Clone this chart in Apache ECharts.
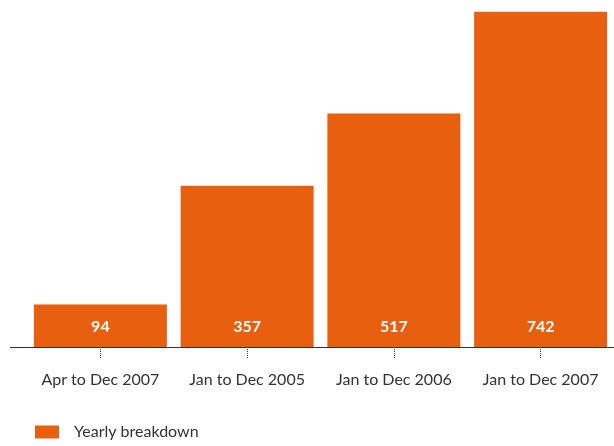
<!DOCTYPE html>
<html><head><meta charset="utf-8">
<script src="https://cdn.jsdelivr.net/npm/echarts@6/dist/echarts.min.js"></script>
<style>html,body{margin:0;padding:0;background:#fff}#c{width:614px;height:446px}</style>
</head><body><div id="c"></div>
<script>
var categories = ["Apr to Dec 2007", "Jan to Dec 2005", "Jan to Dec 2006", "Jan to Dec 2007"];
var values = [94, 357, 517, 742];
var seriesName = "Yearly breakdown";
var orange = "#E95F10";
var chart = echarts.init(document.getElementById('c'), null, {renderer: 'canvas'});
chart.setOption({
  animation: false,
  textStyle: {fontFamily: 'Lato'},
  grid: {left: 27, right: 0, top: 10, bottom: 99},
  legend: {
    data: [seriesName], left: 35, top: 424, padding: 0, itemWidth: 24, itemHeight: 13,
    icon: 'rect',
    textStyle: {fontFamily: 'Lato', fontSize: 16, color: '#333', padding: [0, 0, 0, 10]}
  },
  xAxis: {
    type: 'category', data: categories, offset: 3,
    axisLine: {show: false},
    axisTick: {show: true, interval: 0, alignWithLabel: true, length: 11, lineStyle: {type: 'dotted', color: '#444'}},
    axisLabel: {interval: 0, hideOverlap: false, fontFamily: 'Lato', fontSize: 16, color: '#333', margin: 22}
  },
  yAxis: {type: 'value', min: 0, max: 746, show: false, splitLine: {show: false}},
  graphic: [{type: 'line', shape: {x1: 10, y1: 347.5, x2: 614, y2: 347.5}, style: {stroke: '#333', lineWidth: 1}}],
  series: [{
    name: seriesName, type: 'bar', data: values, barWidth: 133,
    itemStyle: {color: orange},
    label: {show: true, position: 'insideBottom', distance: 12, color: '#fff', fontWeight: 'bold', fontSize: 16, fontFamily: 'Lato'}
  }]
});
</script></body></html>
